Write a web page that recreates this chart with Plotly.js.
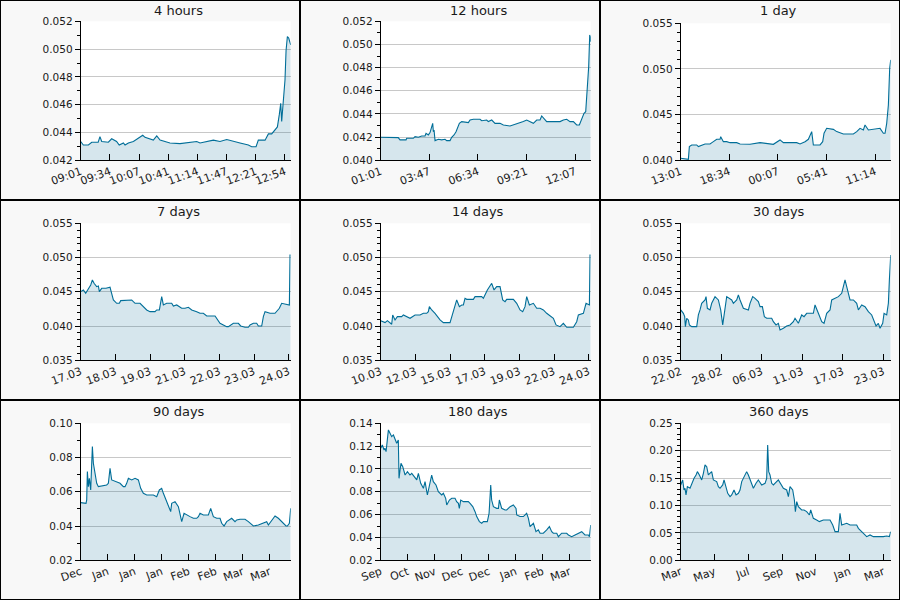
<!DOCTYPE html>
<html>
<head>
<meta charset="utf-8">
<script src="https://cdn.plot.ly/plotly-3.0.1.min.js"></script>
<style>
  html, body { margin: 0; padding: 0; background: #f8f8f8; }
  #chart { width: 900px; height: 600px; }
</style>
</head>
<body>
<div id="chart"></div>
<script>
"use strict";

// ---- data (x in minutes or days from panel start) ----

const t4h = [0, 3, 8.8, 12.6, 20, 22, 24, 31.6, 35.4, 41, 44, 48.8, 50.7, 54.5, 60.2, 70.9, 73.5, 77.3, 83, 86.9,
  90.7, 102, 113.5, 132.6, 136.4, 151.6, 159.2, 166.9, 170.7, 182.1, 191.6, 195.4, 200.4, 203, 210.7, 212.6, 214.5,
  218.3, 220.2, 223.2, 224.8, 227, 228.6, 229.7, 231.6, 233.5, 234.7, 236.2, 237.7, 239.2, 240];
const v4h = [0.04335, 0.0431, 0.0431, 0.0433, 0.0433, 0.0437, 0.04335, 0.0433, 0.04355, 0.04335, 0.0431, 0.04325,
  0.0431, 0.04325, 0.04335, 0.0438, 0.04365, 0.04355, 0.04345, 0.04375, 0.04345, 0.04325, 0.0432, 0.04335, 0.04325,
  0.04345, 0.04335, 0.0435, 0.04345, 0.04325, 0.0431, 0.04298, 0.04298, 0.04345, 0.04345, 0.0437, 0.0439, 0.0439,
  0.04405, 0.0442, 0.0444, 0.0453, 0.0461, 0.0448, 0.0463, 0.0478, 0.0499, 0.0509, 0.0508, 0.0504, 0.0503];

const t12h = [0, 60, 66.3, 86.9, 89.1, 112, 117.7, 129.1, 140.6, 152, 155.4, 163.4, 169.1, 178.3, 180.6, 182.9,
  186.3, 197.7, 209.1, 220.6, 226.3, 237.7, 243.4, 251.4, 258.3, 264, 269.7, 277.7, 300.6, 306.3, 317.7, 340.6,
  346.3, 363.4, 369.1, 380.6, 392, 409.1, 420.6, 443.4, 454.9, 466.3, 477.7, 489.1, 500.6, 512, 523.4, 534.9,
  546.3, 552, 557.7, 569.1, 614.9, 626.3, 637.7, 649.1, 660.6, 672, 681.1, 689.1, 697.1, 702.9, 708.6, 713.1,
  716.6, 718.9, 720];
const v12h = [0.04199, 0.04196, 0.04176, 0.04176, 0.0419, 0.0419, 0.04204, 0.04199, 0.0421, 0.0421, 0.04233,
  0.04219, 0.04239, 0.04319, 0.04247, 0.04262, 0.0417, 0.04181, 0.04176, 0.04181, 0.0417, 0.0417, 0.04199, 0.04219,
  0.04247, 0.04291, 0.04319, 0.04334, 0.04325, 0.04348, 0.04354, 0.04354, 0.04342, 0.04348, 0.04334, 0.04348,
  0.04319, 0.04319, 0.04305, 0.04296, 0.04305, 0.04314, 0.04325, 0.04334, 0.04348, 0.04334, 0.04319, 0.04348,
  0.04348, 0.04383, 0.04363, 0.04334, 0.04334, 0.04348, 0.04354, 0.04334, 0.04334, 0.04305, 0.04305, 0.04363,
  0.04406, 0.0442, 0.04607, 0.04809, 0.05082, 0.05068, 0.05024];

const t1d = [0, 52.6, 59.4, 75.4, 109.7, 121.1, 166.9, 201.1, 224, 246.9, 269.7, 274.3, 292.6, 315.4, 338.3, 384,
  406.9, 452.6, 475.4, 544, 635.4, 681.1, 704, 795.4, 818.3, 852.6, 875.4, 898.3, 909.7, 955.4, 973.7, 982.9,
  1001.1, 1046.9, 1069.7, 1115.4, 1184, 1206.9, 1229.7, 1252.6, 1264, 1286.9, 1366.9, 1389.7, 1401.1, 1412.6,
  1424, 1433.1, 1437.7, 1440];
const v1d = [0.04022, 0.04011, 0.0415, 0.04168, 0.04168, 0.0415, 0.04179, 0.04179, 0.04204, 0.0423, 0.0423,
  0.04259, 0.04204, 0.04204, 0.04193, 0.04193, 0.04179, 0.04179, 0.04175, 0.04193, 0.04175, 0.04223, 0.04193,
  0.04193, 0.04179, 0.04204, 0.0423, 0.04314, 0.04168, 0.04168, 0.04204, 0.04296, 0.0435, 0.04339, 0.04314,
  0.04288, 0.04288, 0.04314, 0.0435, 0.04332, 0.04387, 0.04332, 0.0435, 0.04296, 0.04296, 0.04405, 0.04606,
  0.05007, 0.05099, 0.05099];

const t7d = [0, 0.09, 0.168, 0.258, 0.337, 0.393, 0.449, 0.538, 0.595, 0.628, 0.707, 0.853, 0.931, 0.987, 1.01,
  1.1, 1.212, 1.301, 1.346, 1.492, 1.548, 1.716, 1.772, 1.829, 1.997, 2.109, 2.221, 2.333, 2.502, 2.558, 2.648,
  2.726, 2.782, 2.894, 3.063, 3.119, 3.231, 3.399, 3.511, 3.624, 3.736, 3.904, 4.016, 4.128, 4.241, 4.521, 4.577,
  4.689, 4.801, 4.913, 4.97, 5.138, 5.306, 5.385, 5.531, 5.643, 5.699, 5.811, 5.923, 5.979, 6.092, 6.148, 6.204,
  6.372, 6.54, 6.596, 6.686, 6.765, 6.877, 6.989, 7.023, 7.045, 7.068];
const v7d = [0.04502, 0.04527, 0.04478, 0.04551, 0.046, 0.04673, 0.04624, 0.04575, 0.04585, 0.04502, 0.04551,
  0.04551, 0.04566, 0.04566, 0.04527, 0.04381, 0.04332, 0.04332, 0.04371, 0.04371, 0.04381, 0.04381, 0.04356,
  0.04332, 0.04332, 0.04283, 0.04235, 0.0421, 0.0421, 0.04235, 0.04235, 0.04429, 0.04308, 0.04332, 0.04332,
  0.04293, 0.04308, 0.04259, 0.04259, 0.04274, 0.04235, 0.0421, 0.04186, 0.04186, 0.04147, 0.04147, 0.04113,
  0.0404, 0.04016, 0.03991, 0.03991, 0.0404, 0.0404, 0.04001, 0.03982, 0.03982, 0.04016, 0.0404, 0.0404, 0.04001,
  0.04001, 0.04137, 0.0421, 0.04186, 0.04186, 0.0421, 0.04259, 0.04332, 0.04322, 0.04322, 0.04308, 0.05038,
  0.05038];

const t14d = [0, 0.292, 0.449, 0.628, 0.74, 0.808, 0.965, 1.122, 1.413, 1.526, 1.75, 1.974, 2.311, 2.647, 2.872,
  3.096, 3.208, 3.276, 3.433, 3.657, 3.994, 4.218, 4.667, 4.846, 5.116, 5.295, 5.452, 5.564, 5.676, 5.789, 6.237,
  6.35, 6.798, 6.911, 7.023, 7.18, 7.472, 7.628, 7.808, 8.032, 8.212, 8.369, 8.481, 8.93, 9.154, 9.379, 9.558,
  9.715, 9.827, 10.007, 10.276, 10.5, 10.725, 10.949, 11.173, 11.51, 11.622, 11.802, 12.071, 12.295, 12.52,
  12.969, 13.193, 13.305, 13.642, 13.821, 14.046, 14.09, 14.135];
const v14d = [0.04079, 0.0405, 0.04079, 0.0404, 0.04026, 0.04162, 0.04089, 0.04137, 0.04137, 0.04162, 0.04137,
  0.04113, 0.04162, 0.04162, 0.04186, 0.04186, 0.0421, 0.04283, 0.04235, 0.04186, 0.04089, 0.0405, 0.0405,
  0.04186, 0.04381, 0.04283, 0.04308, 0.04308, 0.04405, 0.0439, 0.0439, 0.04429, 0.04429, 0.04405, 0.04454,
  0.04527, 0.04624, 0.04527, 0.04575, 0.04575, 0.04381, 0.04356, 0.0439, 0.0439, 0.04332, 0.04235, 0.0421,
  0.04283, 0.04429, 0.04308, 0.04332, 0.04259, 0.04259, 0.04235, 0.04186, 0.04137, 0.04113, 0.04016, 0.03991,
  0.0404, 0.03982, 0.03982, 0.04064, 0.04162, 0.04186, 0.04332, 0.04308, 0.05038, 0.05038];

const t30d = [0, 0.381, 0.571, 0.667, 0.857, 1.095, 1.238, 1.571, 2.286, 2.524, 2.762, 3, 3.476, 3.619, 3.81,
  4.19, 4.429, 4.905, 5.381, 5.524, 5.714, 6, 6.333, 6.571, 7.286, 7.524, 8, 8.238, 8.476, 8.952, 9.667, 9.905,
  10.286, 10.619, 11.095, 11.333, 11.667, 11.952, 12.286, 13, 13.238, 13.619, 13.952, 14.19, 14.667, 15.143,
  15.619, 16.095, 16.333, 16.81, 17.286, 17.619, 18, 18.952, 19.19, 19.429, 19.667, 20.143, 20.476, 20.857,
  21.333, 21.571, 22.048, 22.524, 23, 23.476, 23.714, 24.19, 24.667, 25.143, 25.381, 25.857, 26.333, 26.81,
  27.286, 27.524, 27.905, 28.238, 28.476, 28.857, 29.048, 29.429, 29.667, 29.81, 30];
const v30d = [0.04235, 0.04186, 0.04137, 0.03991, 0.04113, 0.04089, 0.04016, 0.03991, 0.03991, 0.04162, 0.04235,
  0.04332, 0.04381, 0.04429, 0.04259, 0.04235, 0.04332, 0.04429, 0.04381, 0.04332, 0.04235, 0.04016, 0.04283,
  0.04429, 0.04381, 0.04332, 0.04381, 0.04454, 0.04381, 0.04259, 0.04235, 0.04332, 0.04429, 0.04405, 0.04356,
  0.04283, 0.04283, 0.04137, 0.04113, 0.04113, 0.04064, 0.04016, 0.0404, 0.03943, 0.03967, 0.04001, 0.04016,
  0.04064, 0.04113, 0.0404, 0.04162, 0.04137, 0.04186, 0.04186, 0.04308, 0.04235, 0.04186, 0.04064, 0.0404,
  0.04186, 0.04235, 0.04381, 0.04405, 0.04429, 0.04478, 0.04673, 0.04575, 0.04381, 0.04381, 0.04332, 0.04235,
  0.04308, 0.04283, 0.0421, 0.04162, 0.04089, 0.04001, 0.0404, 0.03967, 0.0404, 0.04186, 0.04162, 0.04332,
  0.04673, 0.05038];

const t90d = [0, 1.14, 2.29, 2.57, 2.86, 3.29, 3.71, 4.29, 4.71, 5, 5.43, 6.14, 6.86, 7.57, 11.14, 11.86, 12.57,
  13.29, 14.71, 16.86, 18.29, 19, 19.71, 20.43, 21.86, 23.29, 24.71, 25.71, 26.86, 28.29, 31.14, 32.57, 33.71,
  34.71, 35.43, 36.57, 37.57, 38.57, 39, 40.43, 41.86, 42.57, 43.29, 44.29, 45.43, 46.86, 48.29, 49.71, 50.43,
  51.14, 52.57, 54.71, 55.71, 56.86, 58.29, 59.71, 60.43, 61.43, 62.57, 63.71, 64.71, 66.14, 66.86, 68.29, 70.43,
  71.86, 74, 76.14, 78.29, 79.71, 80.43, 81.86, 83.29, 84.71, 86.14, 88, 88.57, 89.43, 90];
const v90d = [0.05367, 0.05328, 0.05328, 0.05523, 0.07178, 0.06302, 0.06788, 0.06107, 0.07762, 0.08638, 0.07664,
  0.07178, 0.06496, 0.06302, 0.06399, 0.06496, 0.07372, 0.06691, 0.06594, 0.06496, 0.06302, 0.06302, 0.06496,
  0.06788, 0.06691, 0.06788, 0.06691, 0.06204, 0.05912, 0.05815, 0.05815, 0.05718, 0.06107, 0.06204, 0.05912,
  0.05523, 0.05134, 0.04842, 0.05328, 0.05426, 0.05134, 0.04745, 0.04258, 0.04745, 0.04647, 0.0455, 0.04453,
  0.04453, 0.0455, 0.04745, 0.04647, 0.04647, 0.05036, 0.0455, 0.04453, 0.04453, 0.04161, 0.04005, 0.04258,
  0.04355, 0.04453, 0.04258, 0.04355, 0.04394, 0.04394, 0.04258, 0.04005, 0.04063, 0.04161, 0.04258, 0.04063,
  0.04355, 0.04589, 0.04453, 0.04258, 0.04005, 0.04005, 0.04161, 0.05036];

const t180d = [0, 1.4, 2.9, 3.7, 4.6, 5.7, 6.6, 8, 9.4, 10.9, 12.3, 13.7, 15.1, 15.7, 16.6, 17.4, 18.9, 20.9, 22.9,
  25.1, 26.6, 29.4, 30.9, 32.3, 34.3, 36.6, 38, 40, 41.7, 43.7, 45.1, 47.4, 49.4, 52.3, 53.7, 55.7, 56.6, 58.9,
  60.9, 63.7, 65.1, 66.6, 67.4, 68.6, 70.9, 75.1, 76.6, 78.9, 80.9, 82.3, 84.6, 86.6, 88, 91.4, 92.9, 94.3, 95.1,
  96.6, 99.4, 100.9, 101.7, 103.7, 106.6, 108, 110.9, 113.7, 116, 116.6, 119.4, 122.3, 125.1, 126.6, 128, 130.9,
  133.1, 135.1, 136.6, 139.4, 142.3, 144.6, 146.6, 148, 150.9, 152.3, 155.1, 159.4, 160.9, 163.7, 166.6, 169.4,
  172.3, 175.1, 178, 178.9, 180];
const v180d = [0.1181, 0.121, 0.1166, 0.1181, 0.1152, 0.1283, 0.1342, 0.1312, 0.1283, 0.1298, 0.1254, 0.1225,
  0.1254, 0.0918, 0.0991, 0.105, 0.102, 0.0947, 0.0977, 0.0947, 0.0962, 0.0918, 0.0904, 0.0962, 0.0874, 0.0831,
  0.0889, 0.0772, 0.0845, 0.0947, 0.0889, 0.086, 0.0801, 0.0772, 0.0787, 0.0743, 0.0685, 0.0728, 0.0743, 0.0743,
  0.0714, 0.0699, 0.0655, 0.0728, 0.0714, 0.0714, 0.0699, 0.067, 0.0626, 0.0583, 0.0539, 0.0524, 0.0539, 0.0539,
  0.0612, 0.086, 0.0728, 0.067, 0.0655, 0.0655, 0.0728, 0.0655, 0.0641, 0.0641, 0.067, 0.0685, 0.0655, 0.0597,
  0.0583, 0.0583, 0.0612, 0.0568, 0.0495, 0.0524, 0.0451, 0.0466, 0.0437, 0.0437, 0.0466, 0.0495, 0.0451, 0.0437,
  0.0437, 0.0407, 0.0437, 0.0437, 0.0422, 0.0407, 0.0422, 0.0437, 0.0451, 0.0422, 0.0422, 0.0407, 0.0509];

const t360d = [0, 3.4, 5.7, 7.4, 9.1, 11.4, 16, 18.9, 22.9, 26.3, 28.6, 32, 36, 38.9, 41.7, 44.6, 47.4, 53.1, 56,
  61.7, 64.6, 67.4, 72, 74.3, 77.7, 80.6, 84.6, 87.4, 91.4, 94.9, 98.9, 101.7, 104.6, 108.6, 113.1, 116, 120,
  124.6, 129.1, 133.1, 138.9, 144.6, 147.4, 149.1, 150.9, 153.1, 156, 158.9, 167.4, 173.1, 176, 181.7, 184.6,
  187.4, 192, 194.9, 196.6, 198.9, 201.7, 207.4, 211.4, 216, 220.6, 222.9, 227.4, 233.1, 237.7, 244.6, 256,
  260.6, 264.6, 270.3, 273.1, 276, 284.6, 290.3, 301.7, 304.6, 307.4, 313.1, 318.9, 324.6, 330.3, 347.4, 353.1,
  357.7, 360];
const v360d = [0.1375, 0.1466, 0.1283, 0.1314, 0.1192, 0.1344, 0.1314, 0.1405, 0.1496, 0.1557, 0.1618, 0.1557,
  0.1466, 0.1588, 0.174, 0.1709, 0.1557, 0.1618, 0.1466, 0.1436, 0.1344, 0.1314, 0.1375, 0.1466, 0.1314, 0.1223,
  0.1162, 0.1192, 0.1283, 0.1192, 0.1223, 0.1283, 0.1436, 0.1527, 0.1618, 0.1557, 0.1436, 0.1314, 0.1405, 0.1466,
  0.1375, 0.1405, 0.1496, 0.2105, 0.1618, 0.1557, 0.1405, 0.1375, 0.1466, 0.1375, 0.1314, 0.1283, 0.1162, 0.1344,
  0.1283, 0.1101, 0.0888, 0.1071, 0.0979, 0.0918, 0.0918, 0.0888, 0.0827, 0.0918, 0.0766, 0.0736, 0.0706, 0.0736,
  0.0736, 0.0645, 0.0523, 0.0523, 0.0858, 0.0645, 0.0675, 0.0645, 0.0645, 0.0584, 0.0554, 0.0493, 0.0432, 0.0462,
  0.0432, 0.0432, 0.0444, 0.0432, 0.0523];

// tick labels
const ticks4h = ["09:01", "09:34", "10:07", "10:41", "11:14", "11:47", "12:21", "12:54"];
const ticks12h = ["01:01", "03:47", "06:34", "09:21", "12:07"];
const ticks1d = ["13:01", "18:34", "00:07", "05:41", "11:14"];
const ticks7d = ["17.03", "18.03", "19.03", "21.03", "22.03", "23.03", "24.03"];
const ticks14d = ["10.03", "12.03", "15.03", "17.03", "19.03", "22.03", "24.03"];
const ticks30d = ["22.02", "28.02", "06.03", "11.03", "17.03", "23.03"];
const ticks90d = ["Dec", "Jan", "Jan", "Jan", "Feb", "Feb", "Mar", "Mar"];
const ticks180d = ["Sep", "Oct", "Nov", "Dec", "Dec", "Jan", "Feb", "Mar"];
const ticks360d = ["Mar", "May", "Jul", "Sep", "Nov", "Jan", "Mar"];

const titles = ["4 hours", "12 hours", "1 day", "7 days", "14 days", "30 days", "90 days", "180 days", "360 days"];

// ---- panel setup ----

const LINE = "#006e98";
const FILL = "rgba(0,100,140,0.16)";

const panels = [
  { x: t4h, y: v4h, ticks: ticks4h, step: 240 / 7.2, xMax: 240, yRange: [0.042, 0.052], dy: 0.002, minor: 0.001, fmt: ".3f", top: 21.3 },
  { x: t12h, y: v12h, ticks: ticks12h, step: 720 / 4.32, xMax: 720, yRange: [0.04, 0.052], dy: 0.002, minor: 0.001, fmt: ".3f", top: 21.3 },
  { x: t1d, y: v1d, ticks: ticks1d, step: 1440 / 4.32, xMax: 1440, yRange: [0.04, 0.055], dy: 0.005, minor: 0.001, fmt: ".3f", top: 23.3 },
  { x: t7d, y: v7d, ticks: ticks7d, step: 7 / 6, xMax: 7.068, yRange: [0.035, 0.055], dy: 0.005, minor: 0.001, fmt: ".3f", top: 23.3 },
  { x: t14d, y: v14d, ticks: ticks14d, step: 14 / 6, xMax: 14.135, yRange: [0.035, 0.055], dy: 0.005, minor: 0.001, fmt: ".3f", top: 23.3 },
  { x: t30d, y: v30d, ticks: ticks30d, step: 5.79, xMax: 30, yRange: [0.035, 0.055], dy: 0.005, minor: 0.001, fmt: ".3f", top: 23.3 },
  { x: t90d, y: v90d, ticks: ticks90d, step: 11.57, xMax: 90, yRange: [0.02, 0.1], dy: 0.02, minor: 0.01, fmt: ".2f", top: 23.3 },
  { x: t180d, y: v180d, ticks: ticks180d, step: 23.14, xMax: 180, yRange: [0.02, 0.14], dy: 0.02, minor: 0.01, fmt: ".2f", top: 23.3 },
  { x: t360d, y: v360d, ticks: ticks360d, step: 57.9, xMax: 360, yRange: [0, 0.25], dy: 0.05, minor: 0.01, fmt: ".2f", top: 23.3 },
];

const data = [];
const layout = {
  width: 900,
  height: 600,
  margin: { l: 0, r: 0, t: 0, b: 0 },
  paper_bgcolor: "#f8f8f8",
  plot_bgcolor: "#ffffff",
  showlegend: false,
  font: { family: "DejaVu Sans", size: 10.5, color: "#1a1a1a" },
  annotations: [],
  shapes: [],
};

panels.forEach((p, i) => {
  const n = i + 1;
  const left = (i % 3) * 300;
  const top = Math.floor(i / 3) * 200;
  const suffix = n === 1 ? "" : n;

  data.push({
    x: p.x,
    y: p.y,
    xaxis: "x" + n,
    yaxis: "y" + n,
    type: "scatter",
    mode: "lines",
    line: { color: LINE, width: 1.1 },
    fill: "tozeroy",
    fillcolor: FILL,
    hoverinfo: "skip",
  });

  layout["xaxis" + suffix] = {
    domain: [(left + 80.7) / 900, (left + 290.7) / 900],
    anchor: "y" + n,
    range: [0, p.xMax],
    tickmode: "array",
    tickvals: p.ticks.map((_, k) => k * p.step),
    ticktext: p.ticks,
    tickangle: -20,
    tickfont: { size: 11 },
    ticks: "inside",
    ticklen: 6,
    tickcolor: "#000",
    showline: true,
    linecolor: "#000",
    linewidth: 1,
    showgrid: false,
    zeroline: false,
  };

  layout["yaxis" + suffix] = {
    domain: [1 - (top + 160.3) / 600, 1 - (top + p.top) / 600],
    anchor: "x" + n,
    range: p.yRange,
    tick0: 0,
    dtick: p.dy,
    tickformat: p.fmt,
    ticks: "outside",
    ticklen: 5,
    tickcolor: "#000",
    minor: { dtick: p.minor, ticks: "outside", ticklen: 3, tickcolor: "#000", showgrid: false },
    showline: true,
    linecolor: "#000",
    linewidth: 1,
    gridcolor: "#c8c8c8",
    zeroline: false,
  };

  layout.annotations.push({
    text: titles[i],
    xref: "paper",
    yref: "paper",
    x: (left + 178.5) / 900,
    y: 1 - (top + 11) / 600,
    xanchor: "center",
    yanchor: "middle",
    showarrow: false,
    font: { size: 13, color: "#1a1a1a" },
  });

  // panel frame
  layout.shapes.push({
    type: "rect",
    xref: "paper",
    yref: "paper",
    x0: left / 900,
    x1: (left + 300) / 900,
    y0: 1 - (top + 200) / 600,
    y1: 1 - top / 600,
    line: { color: "#000", width: 2 },
  });
});

Plotly.newPlot("chart", data, layout, { displayModeBar: false, staticPlot: true });
</script>
</body>
</html>
